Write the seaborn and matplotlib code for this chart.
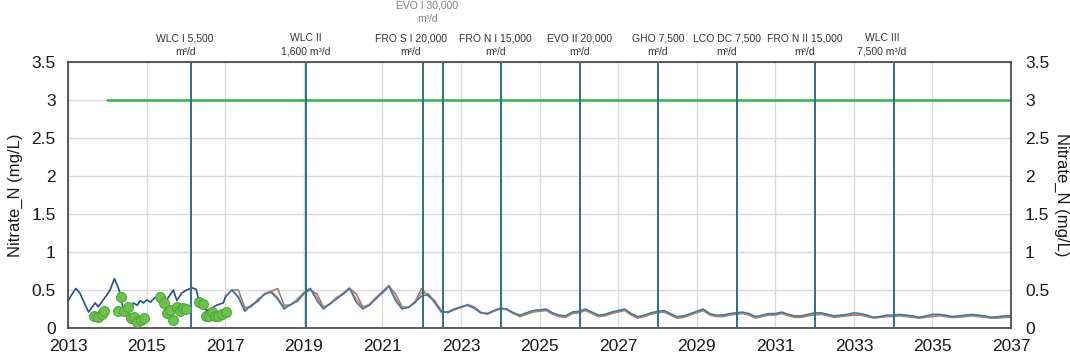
import numpy as np
import pandas as pd
import seaborn as sns
import matplotlib.pyplot as plt

# historic simulation (navy), decimal years
hist_t = [2013.0, 2013.07, 2013.2, 2013.3, 2013.52, 2013.69, 2013.77, 2013.98, 2014.07,
          2014.18, 2014.3, 2014.42, 2014.58, 2014.66, 2014.76, 2014.83, 2014.92, 2015.0,
          2015.1, 2015.21, 2015.34, 2015.44, 2015.55, 2015.68, 2015.77, 2015.89, 2016.02,
          2016.15, 2016.26, 2016.34, 2016.53, 2016.66, 2016.78, 2016.95, 2017.0]
hist_v = [0.36, 0.42, 0.52, 0.46, 0.21, 0.33, 0.28, 0.43, 0.50,
          0.65, 0.50, 0.21, 0.24, 0.33, 0.30, 0.36, 0.33, 0.37,
          0.34, 0.40, 0.37, 0.31, 0.40, 0.50, 0.36, 0.46, 0.50,
          0.53, 0.51, 0.34, 0.23, 0.26, 0.30, 0.33, 0.40]

# observed samples (green dots)
obs_t = [2013.67, 2013.75, 2013.86, 2013.92, 2014.26, 2014.34, 2014.43, 2014.52, 2014.6,
         2014.68, 2014.76, 2014.85, 2014.93, 2015.34, 2015.43, 2015.51, 2015.6, 2015.68,
         2015.77, 2015.85, 2015.92, 2016.0, 2016.34, 2016.43, 2016.51, 2016.59, 2016.67,
         2016.74, 2016.82, 2016.91, 2017.01]
obs_v = [0.16, 0.15, 0.19, 0.22, 0.23, 0.41, 0.23, 0.27, 0.13,
         0.14, 0.08, 0.11, 0.13, 0.41, 0.33, 0.20, 0.24, 0.11,
         0.27, 0.23, 0.26, 0.25, 0.34, 0.31, 0.16, 0.16, 0.21,
         0.16, 0.16, 0.18, 0.21]

# scenario runs, every two months from 2017 to 2037
scen_blue = [
    0.40, 0.50, 0.40, 0.22, 0.30, 0.35,
    0.45, 0.47, 0.38, 0.25, 0.31, 0.35,
    0.45, 0.52, 0.36, 0.25, 0.32, 0.38,
    0.45, 0.52, 0.34, 0.25, 0.30, 0.38,
    0.47, 0.55, 0.36, 0.25, 0.27, 0.34,
    0.42, 0.44, 0.33, 0.21, 0.21, 0.25,
    0.28, 0.30, 0.26, 0.20, 0.19, 0.23,
    0.26, 0.25, 0.20, 0.17, 0.20, 0.23,
    0.24, 0.25, 0.20, 0.17, 0.16, 0.21,
    0.22, 0.25, 0.21, 0.17, 0.18, 0.21,
    0.23, 0.25, 0.19, 0.15, 0.17, 0.20,
    0.22, 0.23, 0.19, 0.15, 0.16, 0.19,
    0.22, 0.25, 0.19, 0.17, 0.17, 0.19,
    0.20, 0.21, 0.19, 0.15, 0.17, 0.19,
    0.19, 0.21, 0.18, 0.16, 0.16, 0.18,
    0.20, 0.20, 0.18, 0.16, 0.17, 0.18,
    0.20, 0.19, 0.17, 0.14, 0.15, 0.17,
    0.17, 0.18, 0.17, 0.16, 0.14, 0.16,
    0.18, 0.18, 0.17, 0.15, 0.16, 0.17,
    0.18, 0.17, 0.16, 0.14, 0.15, 0.16,
    0.16]
scen_orange = [
    0.42, 0.50, 0.42, 0.24, 0.30, 0.36,
    0.45, 0.49, 0.40, 0.27, 0.31, 0.37,
    0.47, 0.52, 0.40, 0.27, 0.32, 0.40,
    0.46, 0.53, 0.38, 0.27, 0.31, 0.40,
    0.48, 0.56, 0.39, 0.26, 0.28, 0.33,
    0.47, 0.45, 0.35, 0.22, 0.21, 0.25,
    0.27, 0.30, 0.27, 0.20, 0.19, 0.22,
    0.25, 0.25, 0.20, 0.16, 0.19, 0.22,
    0.23, 0.24, 0.19, 0.16, 0.15, 0.20,
    0.21, 0.24, 0.20, 0.16, 0.17, 0.20,
    0.22, 0.24, 0.18, 0.14, 0.16, 0.19,
    0.21, 0.22, 0.18, 0.14, 0.15, 0.18,
    0.21, 0.24, 0.18, 0.16, 0.16, 0.18,
    0.19, 0.20, 0.18, 0.14, 0.16, 0.18,
    0.18, 0.20, 0.17, 0.15, 0.15, 0.17,
    0.18, 0.19, 0.17, 0.15, 0.16, 0.17,
    0.18, 0.18, 0.16, 0.14, 0.15, 0.16,
    0.16, 0.17, 0.16, 0.15, 0.14, 0.15,
    0.16, 0.17, 0.16, 0.15, 0.15, 0.16,
    0.17, 0.16, 0.15, 0.14, 0.14, 0.15,
    0.15]
scen_gray = [
    0.42, 0.50, 0.50, 0.27, 0.28, 0.38,
    0.44, 0.48, 0.52, 0.30, 0.30, 0.38,
    0.46, 0.50, 0.45, 0.28, 0.31, 0.40,
    0.44, 0.52, 0.45, 0.28, 0.30, 0.40,
    0.46, 0.55, 0.45, 0.28, 0.27, 0.35,
    0.52, 0.42, 0.36, 0.23, 0.20, 0.24,
    0.27, 0.31, 0.28, 0.21, 0.18, 0.22,
    0.25, 0.24, 0.19, 0.15, 0.18, 0.21,
    0.22, 0.23, 0.18, 0.15, 0.14, 0.19,
    0.20, 0.23, 0.19, 0.15, 0.16, 0.19,
    0.21, 0.23, 0.17, 0.13, 0.15, 0.18,
    0.20, 0.21, 0.17, 0.13, 0.14, 0.17,
    0.20, 0.23, 0.17, 0.15, 0.15, 0.17,
    0.18, 0.19, 0.17, 0.13, 0.15, 0.17,
    0.17, 0.19, 0.16, 0.14, 0.14, 0.16,
    0.17, 0.18, 0.16, 0.14, 0.15, 0.16,
    0.17, 0.17, 0.15, 0.13, 0.14, 0.15,
    0.15, 0.16, 0.15, 0.14, 0.13, 0.14,
    0.15, 0.16, 0.15, 0.14, 0.14, 0.15,
    0.16, 0.15, 0.14, 0.13, 0.13, 0.14,
    0.14]

# standard line
limit_t = [2014.0, 2037.0]
limit_v = [3.0, 3.0]

# plant start-up events
event_t = [2016.13, 2019.06, 2022.03, 2022.54, 2024.02, 2026.03, 2028.01, 2030.02, 2032.0, 2034.02]
event_lbl = ["WLC I 5,500\nm³/d", "WLC II\n1,600 m³/d", "FRO S I 20,000\nm³/d",
             "EVO I 30,000\nm³/d", "FRO N I 15,000\nm³/d", "EVO II 20,000\nm³/d",
             "GHO 7,500\nm³/d", "LCO DC 7,500\nm³/d", "FRO N II 15,000\nm³/d",
             "WLC III\n7,500 m³/d"]

scen_t = np.round(2017 + np.arange(len(scen_blue)) / 6, 4)
hist = pd.DataFrame({"t": hist_t, "v": hist_v})
obs = pd.DataFrame({"t": obs_t, "v": obs_v})
scen = pd.DataFrame({"t": scen_t, "blue": scen_blue, "orange": scen_orange, "gray": scen_gray})

sns.set_style("white")
plt.rcParams["font.family"] = ["Liberation Sans", "DejaVu Sans"]

fig = plt.figure(figsize=(10.7, 3.62), dpi=100)
ax = fig.add_axes([0.0636, 0.0939, 0.8813, 0.7348])

ax.grid(True, color="#d9d9d9", linewidth=1)
ax.set_axisbelow(True)

sns.lineplot(data=pd.DataFrame({"t": limit_t, "v": limit_v}), x="t", y="v", ax=ax,
             color="#2cb84c", linewidth=1.8)
for ev in event_t:
    ax.axvline(ev, color="#2a7389", linewidth=1.4, zorder=3)

sns.lineplot(data=scen, x="t", y="gray", ax=ax, color="#808080", linewidth=1.1)
sns.lineplot(data=scen, x="t", y="orange", ax=ax, color="#ed7d31", linewidth=1.1)
sns.lineplot(data=scen, x="t", y="blue", ax=ax, color="#2e78c2", linewidth=1.1)
sns.lineplot(data=hist, x="t", y="v", ax=ax, color="#23518a", linewidth=1.2)
sns.scatterplot(data=obs, x="t", y="v", ax=ax, color="#6cc24a", edgecolor="#4aa83a",
                s=50, linewidth=0.8, zorder=5)

ticks_y = [0, 0.5, 1, 1.5, 2, 2.5, 3, 3.5]
ticks_y_lbl = ["0", "0.5", "1", "1.5", "2", "2.5", "3", "3.5"]
ax.set_xlim(2013, 2037)
ax.set_ylim(0, 3.5)
ax.set_xticks(range(2013, 2038, 2))
ax.set_yticks(ticks_y)
ax.set_yticklabels(ticks_y_lbl)
ax.tick_params(length=0, labelsize=12.5, colors="#1a1a1a")
ax.tick_params(axis="x", pad=8)
ax.tick_params(axis="y", pad=9)
ax.set_xlabel("")
ax.set_ylabel("Nitrate_N (mg/L)", fontsize=12, color="#1a1a1a", labelpad=6)
for s in ax.spines.values():
    s.set_color("#404040")
    s.set_linewidth(1.2)

ax2 = ax.twinx()
ax2.set_ylim(0, 3.5)
ax2.set_yticks(ticks_y)
ax2.set_yticklabels(ticks_y_lbl)
ax2.tick_params(length=0, labelsize=12.5, colors="#1a1a1a", pad=10)
ax2.set_ylabel("Nitrate_N (mg/L)", fontsize=12, color="#1a1a1a", rotation=270, labelpad=14)
for s in ax2.spines.values():
    s.set_visible(False)

# event labels above the frame
label_dx = [-0.15, 0.0, -0.3, -0.4, -0.15, 0.0, 0.0, -0.25, -0.25, -0.3]
for ev, lbl, dx in zip(event_t, event_lbl, label_dx):
    raised = lbl.startswith("EVO I ")
    ax.text(ev + dx, 3.5 + (0.5 if raised else 0.07), lbl, ha="center", va="bottom",
            fontsize=7.5, color="#7f7f7f" if raised else "#333333", linespacing=1.45,
            clip_on=False)

fig.savefig("out.png", dpi=100)
